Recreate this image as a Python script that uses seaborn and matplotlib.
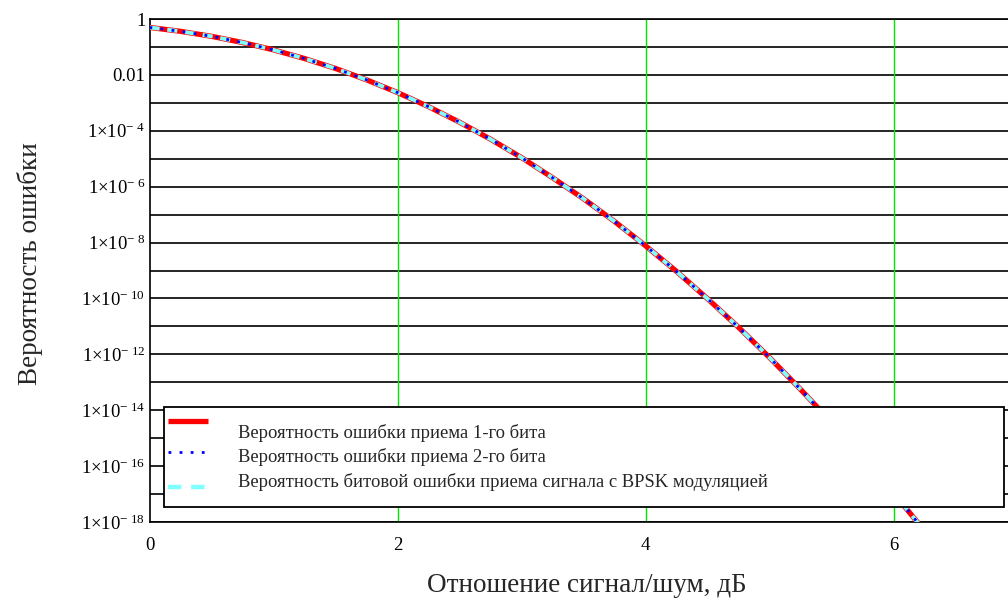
import matplotlib
matplotlib.use("Agg")
import matplotlib.pyplot as plt
import seaborn as sns
import pandas as pd
import numpy as np
from matplotlib.lines import Line2D
from matplotlib.patches import Rectangle
from matplotlib.ticker import FixedLocator, FuncFormatter

# ---- data ----
snr_db = [0.0, 0.25, 0.5, 0.75, 1.0, 1.25, 1.5, 1.75, 2.0, 2.25, 2.5, 2.75, 3.0,
          3.25, 3.5, 3.75, 4.0, 4.25, 4.5, 4.75, 5.0, 5.25, 5.5, 5.75, 6.0, 6.25]
p_bit1 = [0.5, 0.362, 0.240, 0.144, 0.0786, 0.0385, 0.0170, 6.67e-3, 2.34e-3, 7.3e-4,
          2.03e-4, 5.0e-5, 1.1e-5, 2.1e-6, 3.7e-7, 5.7e-8, 7.7e-9, 9.3e-10, 9.8e-11,
          9.3e-12, 7.7e-13, 5.6e-14, 3.7e-15, 2.1e-16, 1.1e-17, 4.8e-19]
p_bit2 = list(p_bit1)
p_bpsk = list(p_bit1)

legend_labels = ["Вероятность ошибки приема 1-го бита",
                 "Вероятность ошибки приема 2-го бита",
                 "Вероятность битовой ошибки приема сигнала с BPSK модуляцией"]
xlabel = "Отношение сигнал/шум, дБ"
ylabel = "Вероятность ошибки"
x_ticks = [0, 2, 4, 6]
y_decades = list(range(0, -19, -1))

sns.set_theme(style="white")
plt.rcParams['font.family'] = ['Liberation Serif', 'DejaVu Serif']
plt.rcParams['mathtext.fontset'] = 'custom'
plt.rcParams['mathtext.rm'] = 'Liberation Serif'
plt.rcParams['mathtext.it'] = 'Liberation Serif:italic'

W, H = 1008, 601
fig = plt.figure(figsize=(W / 100, H / 100), dpi=100)
fig.patch.set_facecolor("white")
ax_l, ax_r, ax_t, ax_b = 149.5, 1017.5, 19, 522
ax = fig.add_axes([ax_l / W, 1 - ax_b / H, (ax_r - ax_l) / W, (ax_b - ax_t) / H])
ax.set_facecolor("white")

df = pd.DataFrame({"x": snr_db, "p1": p_bit1, "p2": p_bit2, "p3": p_bpsk})

sns.lineplot(data=df, x="x", y="p1", ax=ax, color="#ff0000", linewidth=3.8,
             zorder=3)
sns.lineplot(data=df, x="x", y="p3", ax=ax, color="#80ffff", linewidth=2.8,
             zorder=4)
ax.lines[-1].set_dashes((2.6, 2.0))
sns.lineplot(data=df, x="x", y="p2", ax=ax, color="#0000ff", linewidth=2.0,
             zorder=5)
ax.lines[-1].set_dashes((1, 3))

ax.set_yscale("log")
ax.set_xlim(0, 7)
ax.set_ylim(1e-18, 1)

ax.yaxis.set_major_locator(FixedLocator([10.0 ** d for d in y_decades]))

def yfmt(v, pos):
    d = int(round(np.log10(v)))
    if d % 2:
        return ""
    if d == 0:
        return "1"
    if d == -2:
        return "0.01"
    return r"$\mathregular{1{\times}10^{-\ %d}}$" % (-d)

ax.yaxis.set_major_formatter(FuncFormatter(yfmt))
ax.yaxis.set_minor_locator(FixedLocator([]))
ax.set_xticks(x_ticks)
ax.set_xticklabels([str(t) for t in x_ticks])

ax.tick_params(axis="both", length=0, labelsize=13.5, colors="black")
ax.tick_params(axis="y", pad=3)
ax.tick_params(axis="x", pad=11)

ax.grid(False)
for d in y_decades:
    ax.axhline(10.0 ** d, color="black", linewidth=1.2, zorder=1)
for t in x_ticks[1:]:
    ax.axvline(t, color="#00e600", linewidth=1.0, zorder=1)

for s in ["left", "bottom", "top"]:
    ax.spines[s].set_visible(True)
    ax.spines[s].set_color("black")
    ax.spines[s].set_linewidth(1.2)
ax.spines["right"].set_visible(False)
ax.set_xlabel("")
ax.set_ylabel("")

fig.text(587 / W, 1 - 586 / H, xlabel, ha="center", va="center", fontsize=19.5)
fig.text(30 / W, 1 - 264 / H, ylabel, ha="center", va="center", rotation=90,
         fontsize=19.5)

# ---- legend (Mathcad style) ----
def fx(px):
    return px / W

def fy(py):
    return 1 - py / H

box = Rectangle((fx(164), fy(507)), fx(1004) - fx(164), fy(407) - fy(507),
                transform=fig.transFigure, facecolor="white", edgecolor="black",
                linewidth=1.3, zorder=10)
fig.add_artist(box)
samples = [
    dict(y=421, color="#ff0000", lw=3.8, dashes=None),
    dict(y=452, color="#0000ff", lw=2.0, dashes=(1, 3)),
    dict(y=487, color="#80ffff", lw=3.2, dashes=(3, 2.2)),
]
for s in samples:
    ln = Line2D([fx(168), fx(208)], [fy(s["y"]), fy(s["y"])],
                transform=fig.transFigure, color=s["color"], linewidth=s["lw"],
                solid_capstyle="butt", zorder=11)
    if s["dashes"]:
        ln.set_dashes(s["dashes"])
    fig.add_artist(ln)
for lab, yy in zip(legend_labels, [433, 457, 482]):
    fig.text(fx(238), fy(yy), lab, ha="left", va="center", fontsize=13.4,
             zorder=12)

fig.savefig("out.png", dpi=100)
